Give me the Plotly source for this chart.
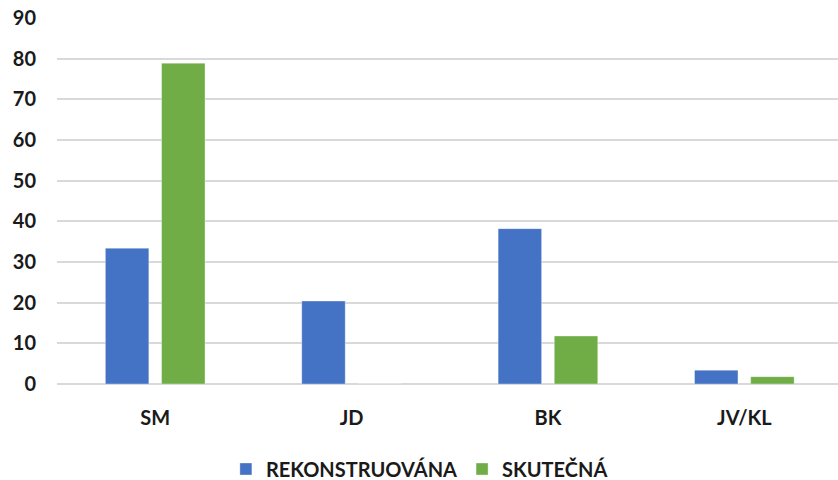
import plotly.graph_objects as go

categories = ["SM", "JD", "BK", "JV/KL"]
rekonstruovana = [33.4, 20.4, 38.2, 3.4]
skutecna = [78.9, 0, 11.8, 1.8]
y_ticks = [0, 10, 20, 30, 40, 50, 60, 70, 80, 90]

font_family = "Lato, 'Open Sans', sans-serif"
text_color = "#1a1a1a"
font_size = 20

fig = go.Figure()
fig.add_trace(go.Bar(
    name="REKONSTRUOVÁNA", x=categories, y=rekonstruovana,
    marker=dict(color="#4472C4", line=dict(color="rgba(255,255,255,0.35)", width=1)),
))
fig.add_trace(go.Bar(
    name="SKUTEČNÁ", x=categories, y=skutecna,
    marker=dict(color="#70AD47", line=dict(color="rgba(255,255,255,0.35)", width=1)),
))

fig.update_layout(
    width=838, height=480,
    margin=dict(l=57, r=0, t=18, b=96, autoexpand=False),
    paper_bgcolor="white", plot_bgcolor="white",
    barmode="group", bargap=0.428, bargroupgap=0.226,
    font=dict(family=font_family, size=font_size, color=text_color),
    showlegend=True,
    legend=dict(
        orientation="h", x=0.464, xanchor="center",
        y=(384 - 469) / 366, yanchor="middle",
        font=dict(family=font_family, size=font_size, color=text_color, weight="bold"),
        itemwidth=30, traceorder="normal",
    ),
    xaxis=dict(
        range=[-0.5, 3.477], showgrid=False, zeroline=False, showline=False,
        tickfont=dict(family=font_family, size=font_size, color=text_color, weight="bold"),
        ticks="", ticklabelstandoff=20, automargin=False,
    ),
    yaxis=dict(
        range=[0, 90], tickvals=y_ticks, showgrid=True, gridcolor="#d9d9d9", gridwidth=1.8,
        zeroline=True, zerolinecolor="#d9d9d9", zerolinewidth=1.8, showline=False,
        tickfont=dict(family=font_family, size=font_size, color=text_color, weight="bold"),
        ticks="", ticklabelstandoff=20, automargin=False,
    ),
)

fig.write_html(
    "out.html",
    config={"displayModeBar": False},
    post_script="document.body.style.margin='0';document.body.style.overflow='hidden';",
)
